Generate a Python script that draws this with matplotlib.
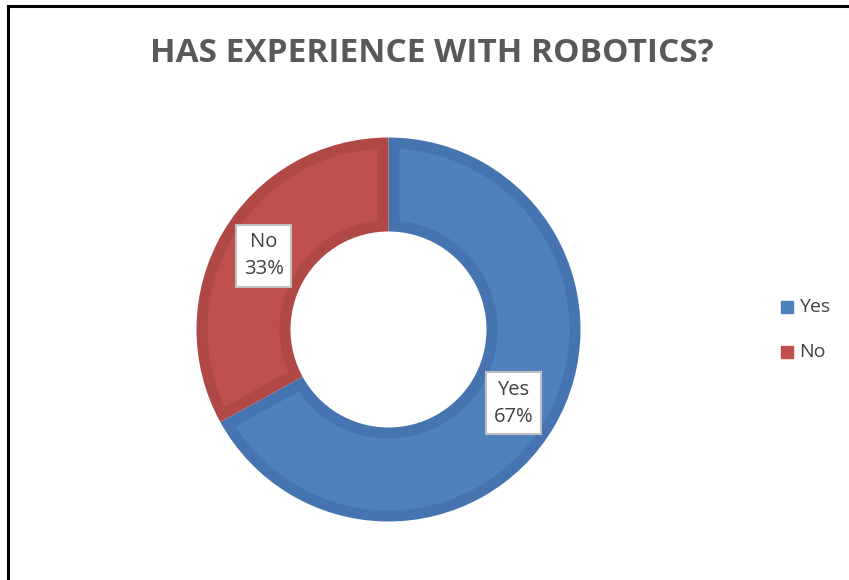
import numpy as np
import matplotlib.pyplot as plt
from matplotlib.lines import Line2D
from matplotlib.patches import Rectangle, Polygon

# dados da enquete
labels = ['Yes', 'No']
values = [67, 33]
fills = ['#4F81BD', '#C0504D']
edges = ['#4674B0', '#B04846']

W, H = 849, 580
fig = plt.figure(figsize=(W / 100, H / 100), dpi=100)
ax = fig.add_axes([0, 0, 1, 1])

# moldura (apenas esquerda e topo)
ax.add_line(Line2D([8, 8], [0, H - 6], color='black', lw=2.2))
ax.add_line(Line2D([8, W], [H - 6, H - 6], color='black', lw=2.2))

cx, cy = 388.5, 250.5
R = 192.0
r_in = 98.0
borda = 11.0   # espessura da borda escura, em pixels

# anel base com a cor da borda
ax.pie(values, colors=edges, startangle=90, counterclock=False,
       center=(cx, cy), radius=R, wedgeprops=dict(width=R - r_in, linewidth=0))
ax.set_xlim(0, W)
ax.set_ylim(0, H)
ax.set_aspect('equal')
ax.axis('off')

# miolo mais claro de cada fatia, recuado pela borda
def miolo(t1, t2, d):
    ro, ri = R - d, r_in + d
    do, di = np.degrees(np.arcsin(d / ro)), np.degrees(np.arcsin(d / ri))
    a_out = np.radians(np.linspace(t1 + do, t2 - do, 200))
    a_in = np.radians(np.linspace(t2 - di, t1 + di, 200))
    xs = np.concatenate([cx + ro * np.cos(a_out), cx + ri * np.cos(a_in)])
    ys = np.concatenate([cy + ro * np.sin(a_out), cy + ri * np.sin(a_in)])
    return np.column_stack([xs, ys])

total = sum(values)
ang = 90.0
r_lab = (R + r_in) / 2
for lab, v, c in zip(labels, values, fills):
    fim = ang - 360.0 * v / total
    ax.add_patch(Polygon(miolo(fim, ang, borda), closed=True, fc=c, ec='none'))
    meio = (ang + fim) / 2
    ang = fim
    x = cx + r_lab * np.cos(np.radians(meio))
    y = cy + r_lab * np.sin(np.radians(meio))
    ax.text(x, y, f'{lab}\n{v}%', ha='center', va='center', fontsize=14.5,
            family='Open Sans', color='#404040', linespacing=1.45, zorder=5,
            bbox=dict(boxstyle='square,pad=0.38', fc='white', ec='#BFBFBF', lw=1.5))

fig.text(432 / W, 1 - 54 / H, 'HAS EXPERIENCE WITH ROBOTICS?', ha='center', va='center',
         fontsize=24, fontweight='bold', family='Open Sans', color='#595959')

# legenda
for i, (lab, c) in enumerate(zip(labels, fills)):
    y = H - (307 + 45 * i)
    ax.add_patch(Rectangle((781, y - 6), 12, 12, color=c))
    ax.text(799, y, lab, ha='left', va='center', fontsize=14,
            family='Open Sans', color='#404040')

fig.savefig('out.png', dpi=100)
